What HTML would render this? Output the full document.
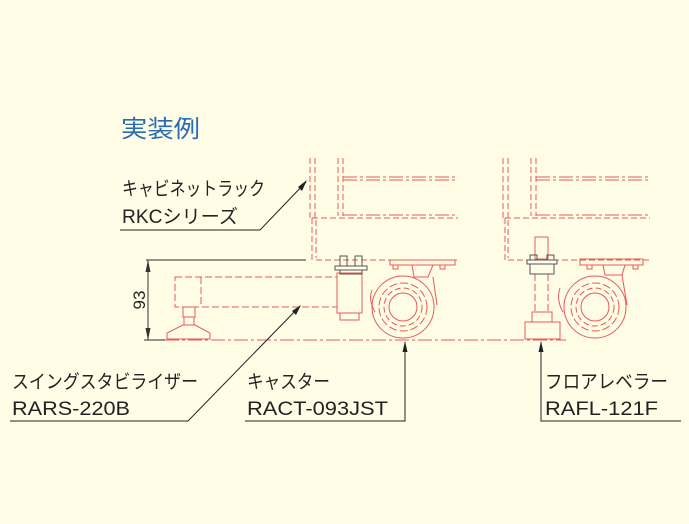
<!DOCTYPE html>
<html><head><meta charset="utf-8"><style>
html,body{margin:0;padding:0;background:#fffde6;}
svg{display:block}
text{font-family:"Liberation Sans","Noto Sans CJK JP",sans-serif;}
</style></head><body>
<svg width="689" height="524" viewBox="0 0 689 524" xmlns="http://www.w3.org/2000/svg">
<rect width="689" height="524" fill="#fffde6"/>
<text x="121" y="137" font-size="24" fill="#2a6bb5" textLength="79" lengthAdjust="spacingAndGlyphs">実装例</text>

<g stroke="#e85a5a" stroke-width="1" fill="none">
  <g stroke-dasharray="6,3">
    <line x1="310" y1="158" x2="310" y2="218"/><line x1="315" y1="158" x2="315" y2="218"/>
    <line x1="338" y1="158" x2="338" y2="216"/><line x1="343" y1="158" x2="343" y2="216"/>
    <line x1="312" y1="218" x2="312" y2="260"/><line x1="316" y1="220" x2="316" y2="258"/>
    <line x1="316" y1="260" x2="458" y2="260"/>
    <line x1="312" y1="218" x2="458" y2="218"/>
  </g>
  <g stroke-dasharray="14,3,3,3">
    <line x1="343" y1="177" x2="458" y2="177"/><line x1="343" y1="180" x2="458" y2="180"/>
    <line x1="343" y1="215" x2="458" y2="215"/>
  </g>
  <g stroke-dasharray="7,3">
    <rect x="175" y="277" width="162" height="30"/>
    <line x1="201" y1="277" x2="201" y2="307"/>
  </g>
  <rect x="183" y="307" width="12" height="10"/>
  <rect x="184" y="317" width="10" height="8"/>
  <path d="M183 325 L195 325 L210 333 L210 339 L167 339 L167 333 Z"/>
  <rect x="337" y="273" width="25" height="40"/>
  <path d="M340 313 L340 320 L359 320 L359 313"/>
  <rect x="390" y="260" width="65" height="5"/>
  <path d="M412 265 L414 277 L428 277 L433 265"/>
  <path d="M372 290 Q368 300 375 312 M433 277 L437 305"/>
  <circle cx="403" cy="307" r="31"/>
  <circle cx="403" cy="307" r="24" stroke-dasharray="8,3"/>
  <circle cx="403" cy="307" r="19" stroke-dasharray="6,3"/>
  <circle cx="403" cy="307" r="14"/>
  <rect x="393" y="265" width="5" height="4"/><rect x="440" y="265" width="5" height="4"/>
  <g stroke-dasharray="6,3">
    <line x1="503" y1="158" x2="503" y2="218"/><line x1="508" y1="158" x2="508" y2="218"/>
    <line x1="531" y1="158" x2="531" y2="216"/><line x1="536" y1="158" x2="536" y2="216"/>
    <line x1="505" y1="218" x2="505" y2="260"/><line x1="508" y1="220" x2="508" y2="258"/>
    <line x1="508" y1="260" x2="650" y2="260"/>
    <line x1="505" y1="218" x2="650" y2="218"/>
  </g>
  <g stroke-dasharray="14,3,3,3">
    <line x1="536" y1="177" x2="650" y2="177"/><line x1="536" y1="180" x2="650" y2="180"/>
    <line x1="536" y1="215" x2="650" y2="215"/>
  </g>
  <rect x="535" y="237" width="13" height="22"/>
  <line x1="535" y1="274" x2="535" y2="312" stroke-dasharray="7,3"/>
  <line x1="548" y1="274" x2="548" y2="312" stroke-dasharray="7,3"/>
  <rect x="532" y="312" width="20" height="10"/>
  <rect x="525" y="322" width="35" height="17"/>
  <rect x="580" y="259" width="63" height="6"/>
  <path d="M603 265 L605 275 L622 275 L625 265"/>
  <path d="M560 288 Q556 300 563 312 M622 275 L627 305"/>
  <circle cx="595" cy="307" r="31"/>
  <circle cx="595" cy="307" r="24" stroke-dasharray="8,3"/>
  <circle cx="595" cy="307" r="19" stroke-dasharray="6,3"/>
  <circle cx="595" cy="307" r="14"/>
  <rect x="587" y="265" width="5" height="4"/><rect x="633" y="265" width="5" height="4"/>
  <line x1="165" y1="340" x2="566" y2="340" stroke-dasharray="14,3,3,3"/>
</g>
<g stroke="#555" stroke-width="1" fill="none">
  <rect x="335" y="266" width="32" height="4"/>
  <rect x="340" y="270" width="22" height="4"/>
  <rect x="340" y="256" width="7" height="10"/><rect x="355" y="256" width="7" height="10"/>
  <rect x="527" y="260" width="30" height="4"/>
  <rect x="530" y="264" width="24" height="10"/>
  <rect x="530" y="255" width="7" height="5"/><rect x="547" y="255" width="7" height="5"/>
</g>
<g stroke="#555" stroke-width="1.2" fill="#333">
  <line x1="146" y1="260" x2="306" y2="260"/>
  <line x1="148" y1="260" x2="148" y2="340"/>
  <line x1="144" y1="340" x2="165" y2="340"/>
  <path d="M148 260 L145.5 272 L150.5 272 Z" stroke="none"/>
  <path d="M148 340 L145.5 328 L150.5 328 Z" stroke="none"/>
</g>
<text transform="translate(145,300) rotate(-90)" font-size="17" fill="#222" text-anchor="middle">93</text>

<g stroke="#222" stroke-width="1" fill="none">
  <polyline points="120,230 260,230 306,182"/>
  <polyline points="10,421 188,421 300,306"/>
  <polyline points="245,421 405,421 405,342"/>
  <polyline points="681,421 541,421 541,342"/>
</g>
<g fill="#222">
  <path d="M307 180 L298 187 L302 191 Z"/>
  <path d="M301 305 L292 311 L296 315 Z"/>
  <path d="M405 341 L402.5 352 L407.5 352 Z"/>
  <path d="M541 341 L538.5 352 L543.5 352 Z"/>
</g>
<g font-size="19" fill="#222" lengthAdjust="spacingAndGlyphs">
  <text x="122" y="195" textLength="143" lengthAdjust="spacingAndGlyphs">キャビネットラック</text>
  <text x="122" y="223" textLength="116" lengthAdjust="spacingAndGlyphs">RKCシリーズ</text>
  <text x="12" y="388" textLength="186" lengthAdjust="spacingAndGlyphs">スイングスタビライザー</text>
  <text x="12" y="415" textLength="118" lengthAdjust="spacingAndGlyphs">RARS-220B</text>
  <text x="247" y="388" textLength="83" lengthAdjust="spacingAndGlyphs">キャスター</text>
  <text x="247" y="415" textLength="141" lengthAdjust="spacingAndGlyphs">RACT-093JST</text>
  <text x="545" y="388" textLength="123" lengthAdjust="spacingAndGlyphs">フロアレベラー</text>
  <text x="545" y="415" textLength="113" lengthAdjust="spacingAndGlyphs">RAFL-121F</text>
</g>
</svg>
</body></html>
